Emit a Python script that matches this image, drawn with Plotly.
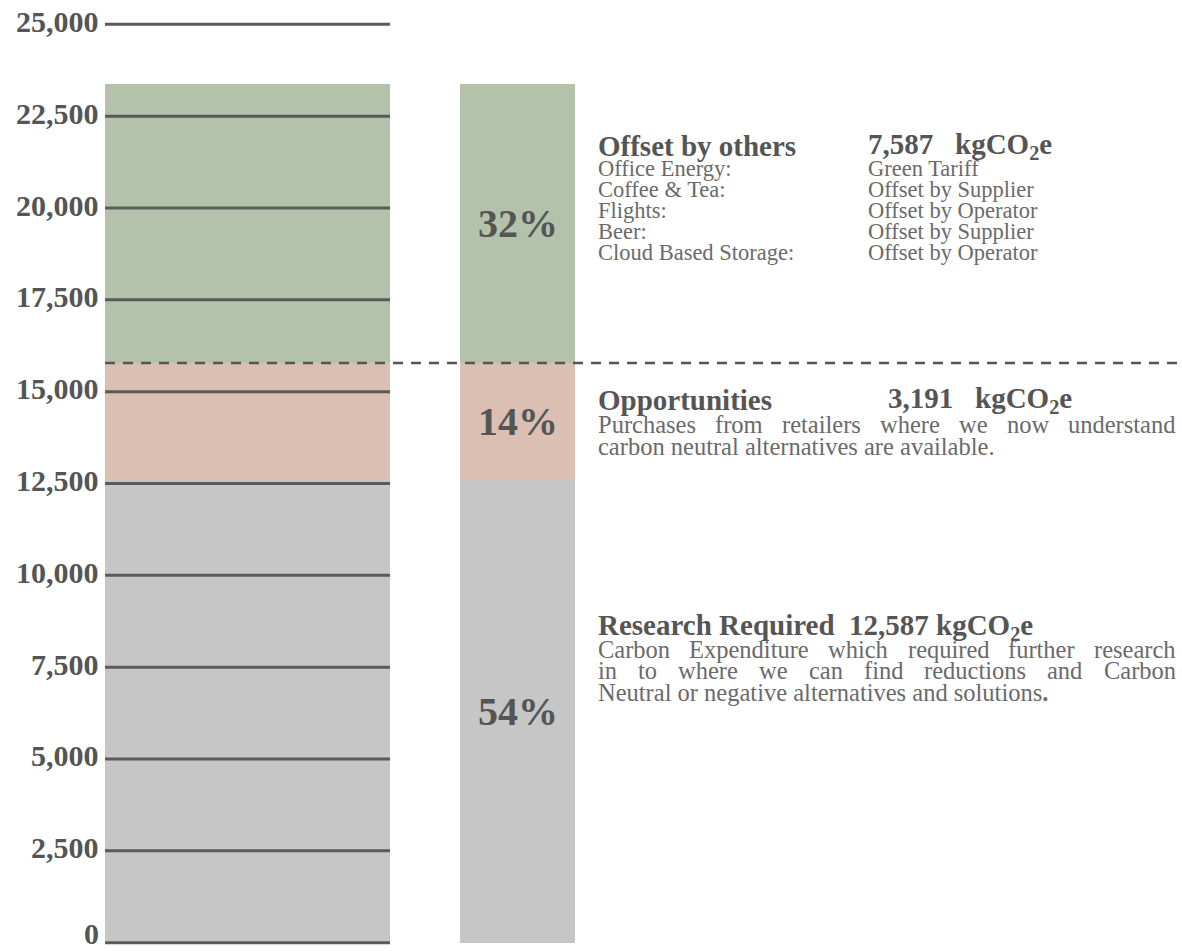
import plotly.graph_objects as go

# Carbon footprint split (kgCO2e), stacked bottom to top
categories = ["Research Required", "Opportunities", "Offset by others"]
values = [12587, 3191, 7587]
colors = ["#c6c6c6", "#dbbfb3", "#b5c2ab"]

tick_vals = list(range(0, 25001, 2500))
tick_text = [f"{v:,}" for v in tick_vals]

offset_items = ["Office Energy:", "Coffee & Tea:", "Flights:", "Beer:", "Cloud Based Storage:"]
offset_how = ["Green Tariff", "Offset by Supplier", "Offset by Operator",
              "Offset by Supplier", "Offset by Operator"]

opp_lines = ["Purchases from retailers where we now understand",
             "carbon neutral alternatives are available."]
res_lines = ["Carbon Expenditure which required further research",
             "in to where we can find reductions and Carbon",
             "Neutral or negative alternatives and solutions."]

W, H = 1182, 951
ML, MR, MT, MB = 105, 0, 17, 1
Y0, Y1 = -200, 25200
PLOT_W = W - ML - MR
PLOT_H = H - MT - MB

SERIF = "Liberation Serif"
DARK = "#555555"
MID = "#6a6a6a"

# bar geometry in x-axis units (axis spans the plot width one unit per pixel)
big_x, big_w = 142.5, 285
small_x, small_w = 412.5, 115

total = sum(values)

fig = go.Figure()
for name, v, c in zip(categories, values, colors):
    fig.add_trace(go.Bar(
        x=[big_x, small_x], y=[v, v], width=[big_w, small_w],
        marker=dict(color=c, line=dict(width=0)), name=name,
        hoverinfo="skip", showlegend=False,
    ))

# horizontal rules across the wide bar at every tick, with their labels
for t, lab in zip(tick_vals, tick_text):
    fig.add_shape(type="line", xref="x", yref="y", x0=0, x1=big_w, y0=t, y1=t,
                  line=dict(color="#5a5a5a", width=3), layer="above")
    fig.add_annotation(x=-4 / PLOT_W, y=t, xref="paper", yref="y", text=f"<b>{lab}</b>",
                       showarrow=False, xanchor="right", yanchor="middle",
                       yshift=3 if t else 9,
                       font=dict(family=SERIF, size=30, color=DARK))

# divider between offset and the rest
fig.add_shape(type="line", xref="x", yref="y", x0=0, x1=PLOT_W,
              y0=values[0] + values[1], y1=values[0] + values[1],
              line=dict(color=DARK, width=2.5, dash="10px,8px"), layer="above")

# percentage labels on the narrow bar
base = 0
for v in values:
    pct = round(v / total * 100)
    fig.add_annotation(x=small_x, y=base + v / 2, xref="x", yref="y",
                       text=f"<b>{pct}%</b>", showarrow=False,
                       font=dict(family=SERIF, size=40, color=DARK))
    base += v


def ypaper(py):
    return (H - MB - py) / PLOT_H


def text(px, py, s, size=24, color=MID, anchor="left"):
    fig.add_annotation(x=(px - ML) / PLOT_W, y=ypaper(py), xref="paper", yref="paper",
                       text=s, showarrow=False, xanchor=anchor, yanchor="middle",
                       font=dict(family=SERIF, size=size, color=color))


# Times-compatible advance widths (per 1000 em) for justified paragraph lines
_W = dict(zip("abcdefghijklmnopqrstuvwxyz",
              [444, 500, 444, 500, 444, 333, 500, 500, 278, 278, 500, 278, 778,
               500, 500, 500, 500, 333, 389, 278, 500, 500, 722, 500, 500, 444]))
_W.update(dict(zip("ABCDEFGHIJKLMNOPQRSTUVWXYZ",
                   [722, 667, 667, 722, 611, 556, 722, 722, 333, 389, 722, 611, 889,
                    722, 722, 556, 722, 667, 556, 611, 722, 722, 944, 722, 722, 611])))
_W.update({".": 250, ",": 250, ":": 278, " ": 250, "&": 778})


def word_width(w, size):
    return sum(_W.get(ch, 500) for ch in w) * size / 1000


def paragraph(px_left, px_right, py0, lines, size=24.5, lead=21.5):
    for i, line in enumerate(lines):
        py = py0 + lead * i
        words = line.split(" ")
        last = i == len(lines) - 1
        if last or len(words) < 2:
            text(px_left, py, line.replace("solutions.", "solutions<b>.</b>"), size)
            continue
        widths = [word_width(w, size) for w in words]
        gap = (px_right - px_left - sum(widths)) / (len(words) - 1)
        x = px_left
        for w, ww in zip(words, widths):
            text(x, py, w, size)
            x += ww + gap


X_LEFT, X_RIGHT, X_COL2 = 596, 1174, 866
KG = "kgCO<sub>2</sub>e"

# Offset by others block
text(X_LEFT, 146, "<b>Offset by others</b>", 29, DARK)
text(X_COL2, 146, f"<b>{values[2]:,}   {KG}</b>", 29, DARK)
for i, (a, b) in enumerate(zip(offset_items, offset_how)):
    text(X_LEFT, 168 + 21 * i, a, 22.5)
    text(X_COL2, 168 + 21 * i, b, 22.5)

# Opportunities block
text(X_LEFT, 400, "<b>Opportunities</b>", 29, DARK)
text(886, 400, f"<b>{values[1]:,}   {KG}</b>", 29, DARK)
paragraph(X_LEFT, X_RIGHT, 425, opp_lines)

# Research Required block
text(X_LEFT, 627, f"<b>Research Required  {values[0]:,} {KG}</b>", 29, DARK)
paragraph(X_LEFT, X_RIGHT, 649, res_lines)

fig.update_layout(
    width=W, height=H,
    margin=dict(l=ML, r=MR, t=MT, b=MB),
    paper_bgcolor="white", plot_bgcolor="white",
    barmode="stack", bargap=0,
    xaxis=dict(range=[0, PLOT_W], visible=False, fixedrange=True),
    yaxis=dict(range=[Y0, Y1], visible=False, fixedrange=True),
)

fig.write_html("out.html")
